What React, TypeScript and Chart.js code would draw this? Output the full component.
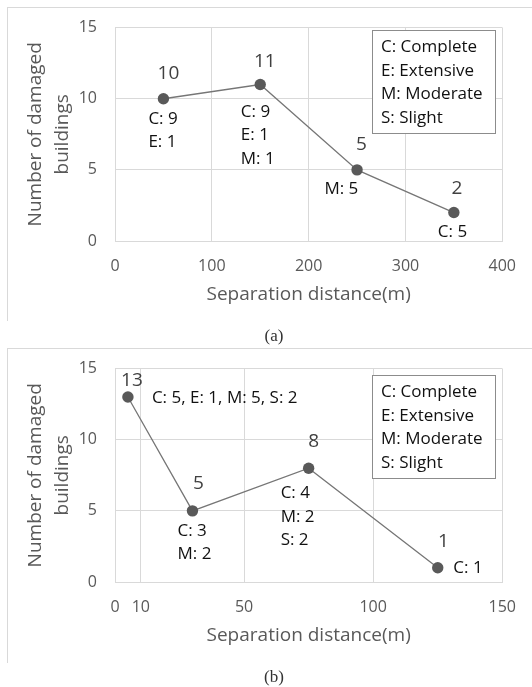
import React, { useEffect, useRef } from 'react';
import { Chart, registerables } from 'chart.js';

Chart.register(...registerables);

// ---------- data ----------
const distancesA = [50, 150, 250, 350];
const countsA = [10, 11, 5, 2];
const breakdownA = [['C: 9', 'E: 1'], ['C: 9', 'E: 1', 'M: 1'], ['M: 5'], ['C: 5']];
const xTicksA = [0, 100, 200, 300, 400];

const distancesB = [5, 30, 75, 125];
const countsB = [13, 5, 8, 1];
const breakdownB = [['C: 5, E: 1, M: 5, S: 2'], ['C: 3', 'M: 2'], ['C: 4', 'M: 2', 'S: 2'], ['C: 1']];
const xTicksB = [0, 10, 50, 100, 150];

const yTicks = [0, 5, 10, 15];
const legendLines = ['C: Complete', 'E: Extensive', 'M: Moderate', 'S: Slight'];
const xTitle = 'Separation distance(m)';
const yTitle = ['Number of damaged', 'buildings'];

// ---------- label layout (pixel offsets relative to each point) ----------
const layoutA = {
  valueOff: [[5, -25], [4.6, -22.6], [4.4, -25], [3, -24]],
  breakOff: [[-15, 20], [-19.4, 27.4], [-32.6, 19], [-16, 19.8]],
  legendTop: 2,
};
const layoutB = {
  valueOff: [[4, -16], [6, -27.7], [5, -26.3], [5.6, -26.5]],
  breakOff: [[24, 1], [-15, 20], [-28, 25], [15.6, 0]],
  legendTop: 6,
};

const FONT = '"Open Sans", "Noto Sans", sans-serif';

function annotPlugin(layout: any, breakdown: string[][]) {
  return {
    id: 'annot',
    afterDatasetsDraw(chart: any) {
      const ctx = chart.ctx;
      const meta = chart.getDatasetMeta(0);
      const ds = chart.data.datasets[0].data as any[];
      ctx.save();
      ctx.textBaseline = 'middle';
      meta.data.forEach((pt: any, i: number) => {
        ctx.font = `19px ${FONT}`;
        ctx.fillStyle = '#404040';
        ctx.textAlign = 'center';
        ctx.fillText(String(ds[i].y), pt.x + layout.valueOff[i][0], pt.y + layout.valueOff[i][1]);
        ctx.font = `17px ${FONT}`;
        ctx.fillStyle = '#111111';
        ctx.textAlign = 'left';
        breakdown[i].forEach((line, j) => {
          ctx.fillText(line, pt.x + layout.breakOff[i][0], pt.y + layout.breakOff[i][1] + j * 23.5);
        });
      });
      const ca = chart.chartArea;
      const bx = Math.round(ca.right - 130);
      const by = Math.round(ca.top + layout.legendTop);
      ctx.fillStyle = '#ffffff';
      ctx.fillRect(bx, by, 123, 103);
      ctx.strokeStyle = '#8c8c8c';
      ctx.lineWidth = 1;
      ctx.strokeRect(bx + 0.5, by + 0.5, 123, 103);
      ctx.font = `17px ${FONT}`;
      ctx.fillStyle = '#111111';
      ctx.textAlign = 'left';
      legendLines.forEach((t, j) => ctx.fillText(t, bx + 9, by + 17 + j * 23.7));
      ctx.restore();
    },
  };
}

function makeConfig(xs: number[], ys: number[], xTicks: number[], layout: any, breakdown: string[][]) {
  const grid = { color: '#d9d9d9', drawTicks: false, lineWidth: 1 };
  return {
    type: 'line' as const,
    data: {
      datasets: [
        {
          data: xs.map((x, i) => ({ x, y: ys[i] })),
          borderColor: '#767676',
          borderWidth: 1.3,
          pointRadius: 5.7,
          pointBackgroundColor: '#595959',
          pointBorderColor: '#595959',
          pointBorderWidth: 0,
          tension: 0,
        },
      ],
    },
    options: {
      responsive: false,
      animation: false as const,
      layout: { padding: { top: 25, right: 24, left: 0, bottom: 0 } },
      plugins: { legend: { display: false }, tooltip: { enabled: false } },
      scales: {
        x: {
          type: 'linear' as const,
          min: xTicks[0],
          max: xTicks[xTicks.length - 1],
          afterBuildTicks: (s: any) => {
            s.ticks = xTicks.map((v) => ({ value: v }));
          },
          afterFit: (s: any) => {
            s.height = 74;
          },
          grid,
          border: { color: '#d9d9d9' },
          ticks: { padding: 16, color: '#595959', font: { family: FONT, size: 16 }, maxRotation: 0, autoSkip: false },
          title: {
            display: true,
            text: xTitle,
            color: '#595959',
            font: { family: FONT, size: 19, lineHeight: 1.4 },
            padding: { top: 0, bottom: 6.7 },
          },
        },
        y: {
          type: 'linear' as const,
          min: yTicks[0],
          max: yTicks[yTicks.length - 1],
          afterBuildTicks: (s: any) => {
            s.ticks = yTicks.map((v) => ({ value: v }));
          },
          afterFit: (s: any) => {
            s.width = 115;
          },
          grid,
          border: { color: '#d9d9d9' },
          ticks: { padding: 18, color: '#595959', font: { family: FONT, size: 16 } },
          title: {
            display: true,
            text: yTitle,
            color: '#595959',
            font: { family: FONT, size: 19, lineHeight: 1.4 },
            padding: { top: 22.7, bottom: 0 },
          },
        },
      },
    },
    plugins: [annotPlugin(layout, breakdown)],
  };
}

function PanelChart({ xs, ys, xTicks, layout, breakdown, top }: any) {
  const ref = useRef<HTMLCanvasElement>(null);
  useEffect(() => {
    if (!ref.current) return;
    const chart = new Chart(ref.current, makeConfig(xs, ys, xTicks, layout, breakdown) as any);
    return () => chart.destroy();
  }, []);
  return (
    <canvas
      ref={ref}
      width={532}
      height={315}
      style={{ position: 'absolute', left: 0, top, width: 532, height: 315 }}
    />
  );
}

const frame = (top: number, height: number): React.CSSProperties => ({
  position: 'absolute',
  left: 7,
  top,
  width: 540,
  height,
  borderTop: '1px solid #d9d9d9',
  borderLeft: '1px solid #d9d9d9',
  boxSizing: 'border-box',
});

const caption = (top: number): React.CSSProperties => ({
  position: 'absolute',
  left: 274,
  top,
  transform: 'translate(-50%, -50%)',
  fontFamily: '"Liberation Serif", "DejaVu Serif", serif',
  fontSize: 17,
  color: '#333333',
  lineHeight: 1,
});

export default function App() {
  return (
    <div
      style={{
        position: 'fixed',
        left: 0,
        top: 0,
        width: 532,
        height: 687,
        background: '#ffffff',
        overflow: 'hidden',
      }}
    >
      <div style={frame(7, 314)} />
      <div style={frame(348, 315)} />
      <PanelChart xs={distancesA} ys={countsA} xTicks={xTicksA} layout={layoutA} breakdown={breakdownA} top={0} />
      <PanelChart xs={distancesB} ys={countsB} xTicks={xTicksB} layout={layoutB} breakdown={breakdownB} top={341} />
      <div style={caption(335)}>(a)</div>
      <div style={caption(676)}>(b)</div>
    </div>
  );
}
